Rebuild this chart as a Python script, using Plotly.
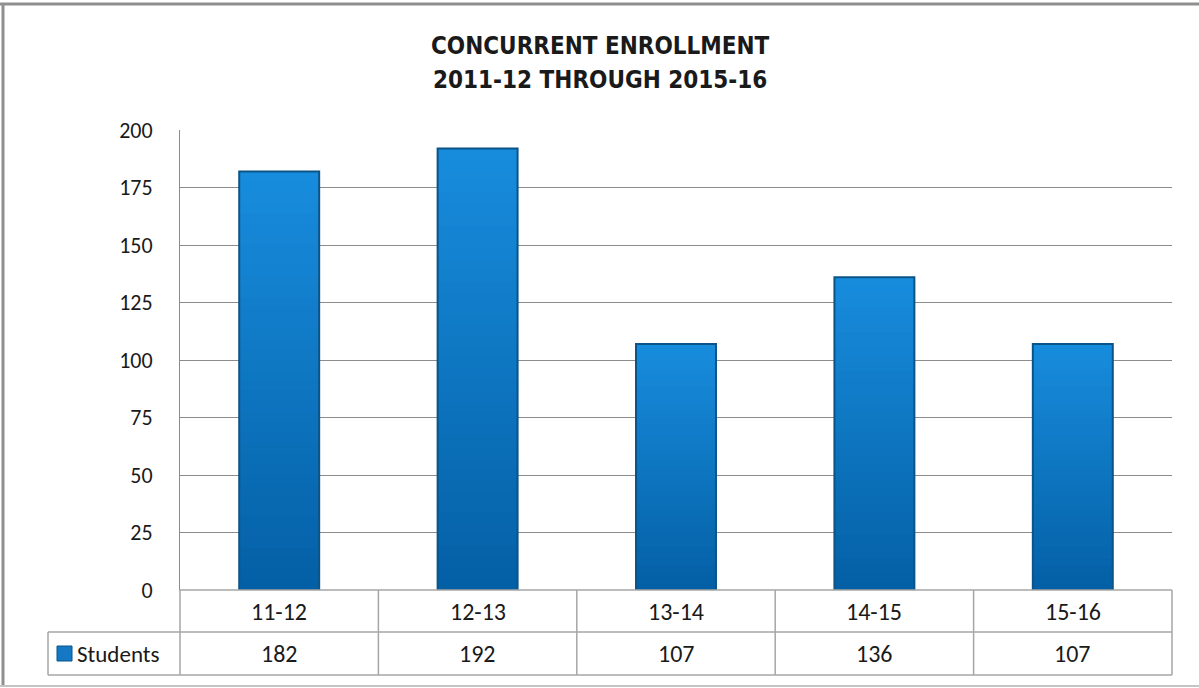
import plotly.graph_objects as go

# ---------------- data ----------------
categories = ["11-12", "12-13", "13-14", "14-15", "15-16"]
students = [182, 192, 107, 136, 107]
series_name = "Students"
y_ticks = [0, 25, 50, 75, 100, 125, 150, 175, 200]
title_line1 = "CONCURRENT ENROLLMENT"
title_line2 = "2011-12 THROUGH 2015-16"

# ---------------- layout constants ----------------
W, H = 1199, 688
ML, MR, MT, MB = 180, 27, 130, 98
PW, PH = W - ML - MR, H - MT - MB


def px_x(px):
    return (px - ML) / PW


def px_y(py):
    return (H - MB - py) / PH


TICK_FONT = "Calibri, Carlito, Lato, sans-serif"
TITLE_FONT = "Liberation Sans Narrow, Arial Narrow, DejaVu Sans Condensed, sans-serif"
TXT = "#1a1a1a"
GRID = "#8c8c8c"
TABLE = "#a6a6a6"

fig = go.Figure()

# vertical gradient: overlayed bars of decreasing height, lightest on top
N_SEG = 40
top_rgb = (24, 140, 220)
bot_rgb = (4, 96, 166)
for k in range(N_SEG):
    t = k / (N_SEG - 1)
    c = tuple(round(top_rgb[i] + (bot_rgb[i] - top_rgb[i]) * t) for i in range(3))
    frac = (N_SEG - k) / N_SEG
    fig.add_bar(
        x=categories,
        y=[v * frac for v in students],
        marker=dict(color="rgb(%d,%d,%d)" % c, line=dict(width=0)),
        showlegend=False,
        hoverinfo="skip",
    )
# outline
fig.add_bar(
    x=categories,
    y=students,
    name=series_name,
    marker=dict(color="rgba(0,0,0,0)", line=dict(color="#0b5488", width=2)),
    showlegend=False,
    hovertemplate="%{x}: %{y}<extra></extra>",
)

shapes = []
n = len(categories)
y_row1 = px_y(632)
y_row2 = px_y(675)
x_head = px_x(48)

# table top (x axis line)
shapes.append(dict(type="line", xref="paper", yref="paper", x0=0, x1=1, y0=0, y1=0,
                   line=dict(color=TABLE, width=1.5)))
for yy in (y_row1, y_row2):
    shapes.append(dict(type="line", xref="paper", yref="paper", x0=x_head, x1=1, y0=yy, y1=yy,
                       line=dict(color=TABLE, width=1.5)))
shapes.append(dict(type="line", xref="paper", yref="paper", x0=x_head, x1=x_head, y0=y_row1, y1=y_row2,
                   line=dict(color=TABLE, width=1.5)))
for i in range(n + 1):
    xx = i / n
    shapes.append(dict(type="line", xref="paper", yref="paper", x0=xx, x1=xx, y0=0, y1=y_row2,
                       line=dict(color=TABLE, width=1.5)))

# legend key square
shapes.append(dict(type="rect", xref="paper", yref="paper",
                   x0=px_x(57), x1=px_x(72), y0=px_y(646), y1=px_y(661),
                   fillcolor="#1578c4", line=dict(color="#0b5488", width=1)))

# outer frame
shapes.append(dict(type="line", xref="paper", yref="paper", x0=px_x(0), x1=px_x(W), y0=px_y(4), y1=px_y(4),
                   line=dict(color="#8f8f8f", width=3)))
shapes.append(dict(type="line", xref="paper", yref="paper", x0=px_x(3), x1=px_x(3), y0=px_y(4), y1=px_y(686),
                   line=dict(color="#8f8f8f", width=3)))
shapes.append(dict(type="line", xref="paper", yref="paper", x0=px_x(0), x1=px_x(W), y0=px_y(686), y1=px_y(686),
                   line=dict(color="#c4c4c4", width=2)))

annotations = []
for cat, v in zip(categories, students):
    annotations.append(dict(x=cat, xref="x", y=(0 + y_row1) / 2, yref="paper", text=cat,
                            showarrow=False, font=dict(family=TICK_FONT, size=24, color=TXT),
                            xanchor="center", yanchor="middle"))
    annotations.append(dict(x=cat, xref="x", y=(y_row1 + y_row2) / 2, yref="paper", text=str(v),
                            showarrow=False, font=dict(family=TICK_FONT, size=24, color=TXT),
                            xanchor="center", yanchor="middle"))
annotations.append(dict(x=px_x(75), xref="paper", y=(y_row1 + y_row2) / 2, yref="paper", text=series_name,
                        showarrow=False, font=dict(family=TICK_FONT, size=23, color=TXT),
                        xanchor="left", yanchor="middle"))
annotations.append(dict(x=px_x(600), xref="paper", y=px_y(46), yref="paper", text="<b>%s</b>" % title_line1,
                        showarrow=False, font=dict(family=TITLE_FONT, size=24, color=TXT),
                        xanchor="center", yanchor="middle"))
annotations.append(dict(x=px_x(600), xref="paper", y=px_y(80), yref="paper", text="<b>%s</b>" % title_line2,
                        showarrow=False, font=dict(family=TITLE_FONT, size=24, color=TXT),
                        xanchor="center", yanchor="middle"))

fig.update_layout(
    width=W, height=H,
    margin=dict(l=ML, r=MR, t=MT, b=MB, pad=0),
    paper_bgcolor="white", plot_bgcolor="white",
    barmode="overlay", bargap=0.597,
    shapes=shapes, annotations=annotations,
    xaxis=dict(type="category", range=[-0.5, n - 0.5], showticklabels=False, showgrid=False,
               showline=False, zeroline=False, ticks=""),
    yaxis=dict(range=[0, 200], tickvals=y_ticks, showgrid=True, gridcolor=GRID, gridwidth=1,
               showline=True, linecolor=GRID, linewidth=1, zeroline=False, ticks="",
               ticklabelstandoff=22, tickfont=dict(family=TICK_FONT, size=22, color=TXT)),
    showlegend=False,
)

fig.write_html("out.html", config={"displayModeBar": False},
               post_script="document.body.style.margin='0';document.body.style.overflow='hidden';")
